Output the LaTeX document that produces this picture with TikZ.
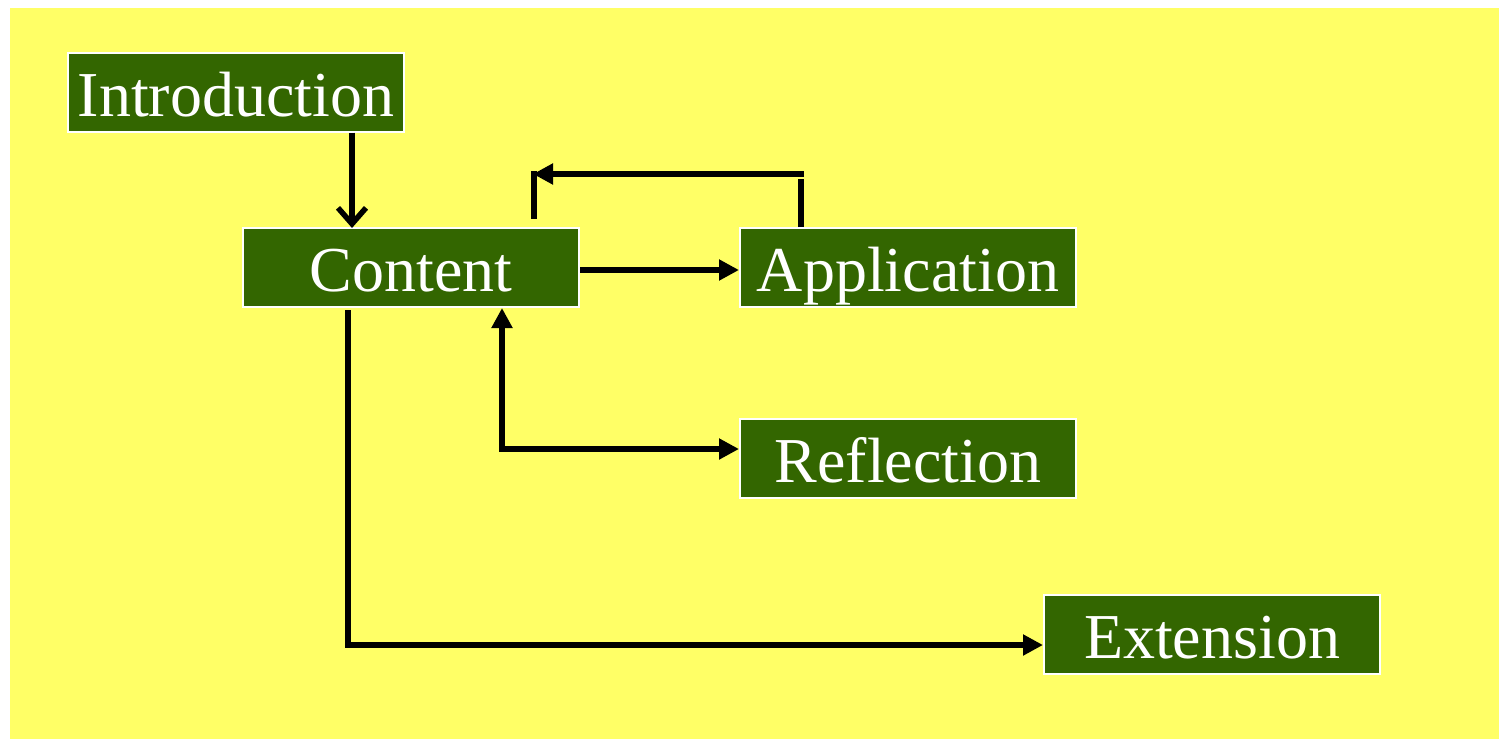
\documentclass[tikz,border=0pt]{standalone}
\usepackage{fontspec}
\setmainfont{Liberation Serif}
\usetikzlibrary{arrows.meta}
\definecolor{bgyellow}{HTML}{FFFF66}
\definecolor{boxgreen}{HTML}{336600}
\tikzset{
  box/.style={rectangle, fill=boxgreen, draw=white, line width=2pt,
    minimum width=336pt, minimum height=79pt, inner sep=0pt,
    text height=48pt, text depth=0pt,
    text=white, font=\fontsize{64}{70}\selectfont},
  conn/.style={line width=5.5pt, black},
  tri/.style={conn, -{Triangle[length=20pt,width=20pt]}},
  tritri/.style={conn, {Triangle[length=20pt,width=20pt]}-{Triangle[length=20pt,width=20pt]}},
  barb/.style={conn, -{Straight Barb[length=16pt,width=28pt]}}
}
\begin{document}
\begin{tikzpicture}[x=1pt,y=-1pt]
\useasboundingbox (0,0) rectangle (1499,739);
\fill[white] (0,0) rectangle (1499,739);
\fill[bgyellow] (10,8) rectangle (1499,739);

\node[box] (intro) at (236,92) {Introduction};
\node[box] (content) at (411,267.5) {Content};
\node[box] (app) at (908,267.5) {Application};
\node[box] (refl) at (908,458.5) {Reflection};
\node[box] (ext) at (1212,634.5) {Extension};

% Introduction -> Content
\draw[barb] ([xshift=116pt]intro.south) -- ([xshift=-59pt,yshift=-1pt]content.north);

% Content -> Application
\draw[tri] ([yshift=-2.5pt]content.east) -- ([yshift=-2.5pt]app.west);

% Application feedback to Content
\coordinate (fbA) at ([xshift=-107pt,yshift=48pt]app.north);
\coordinate (fbB) at ([xshift=-104pt,yshift=53pt]app.north);
\coordinate (fbC) at ([xshift=122pt,yshift=53pt]content.north);
\coordinate (fbD) at ([xshift=123pt,yshift=56pt]content.north);
\coordinate (fbE) at ([xshift=123pt,yshift=8pt]content.north);
\draw[conn] ([xshift=-107pt]app.north) -- (fbA);
\draw[tri] (fbB) -- (fbC);
\draw[conn] (fbD) -- (fbE);

% Content <-> Reflection
\draw[tritri] ([xshift=91pt]content.south) |- ([yshift=9.5pt]refl.west);

% Content -> Extension
\draw[tri] ([xshift=-63pt,yshift=-2pt]content.south) |- ([yshift=-10.5pt]ext.west);
\end{tikzpicture}
\end{document}
